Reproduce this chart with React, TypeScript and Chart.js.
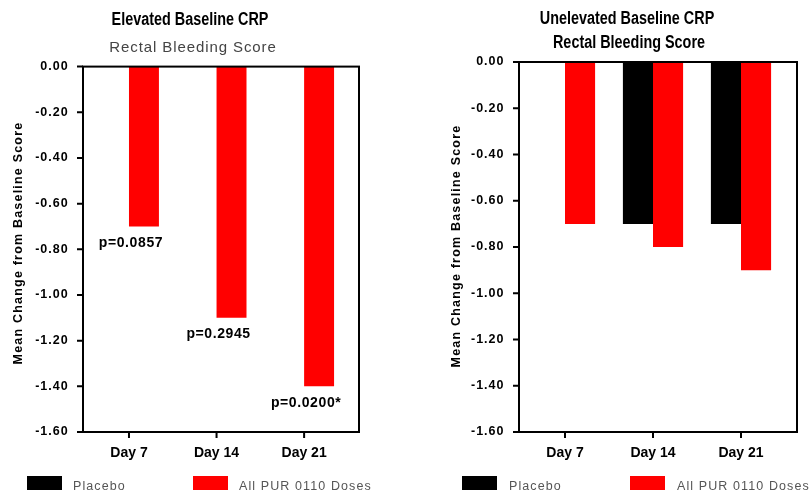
import React, { useEffect, useRef } from "react";
import { Chart, registerables } from "chart.js";

Chart.register(...registerables);

// ---------- data ----------
const categories = ["Day 7", "Day 14", "Day 21"];
const seriesNames = ["Placebo", "All PUR 0110 Doses"];
const seriesColors = ["#000000", "#FF0000"];
const yTickValues = [0, -0.2, -0.4, -0.6, -0.8, -1.0, -1.2, -1.4, -1.6];
const yTickLabels = ["0.00", "-0.20", "-0.40", "-0.60", "-0.80", "-1.00", "-1.20", "-1.40", "-1.60"];
const yAxisTitle = "Mean Change from Baseline Score";

const elevatedTitle = "Elevated Baseline CRP";
const elevatedSubtitle = "Rectal Bleeding Score";
const elevatedPlacebo = [0, 0, 0];
const elevatedPur = [-0.7, -1.1, -1.4];
const elevatedPValues = ["p=0.0857", "p=0.2945", "p=0.0200*"];

const unelevatedTitle = "Unelevated Baseline CRP";
const unelevatedSubtitle = "Rectal Bleeding Score";
const unelevatedPlacebo = [0, -0.7, -0.7];
const unelevatedPur = [-0.7, -0.8, -0.9];

// ---------- styling ----------
const SANS = '"Liberation Sans", Arial, sans-serif';
const H = 493;

type Panel = {
  canvasLeft: number;
  canvasWidth: number;
  areaLeft: number;
  areaRight: number;
  areaTop: number;
  areaBottom: number;
  frameLeft: number;
  frameRight: number;
  title: string;
  subtitle: string;
  subtitleBold: boolean;
  titlePos: [number, number];
  subPos: [number, number];
  yTitlePos: [number, number];
  placebo: number[];
  pur: number[];
  pLabels: string[] | null;
  legendX: [number, number, number, number];
};

const panels: Panel[] = [
  {
    canvasLeft: 0,
    canvasWidth: 405,
    areaLeft: 85.2,
    areaRight: 347.9,
    areaTop: 66.6,
    areaBottom: 432,
    frameLeft: 83,
    frameRight: 359,
    title: elevatedTitle,
    subtitle: elevatedSubtitle,
    subtitleBold: false,
    titlePos: [190, 20],
    subPos: [193, 48],
    yTitlePos: [19, 243],
    placebo: elevatedPlacebo,
    pur: elevatedPur,
    pLabels: elevatedPValues,
    legendX: [27, 73, 193, 239],
  },
  {
    canvasLeft: 405,
    canvasWidth: 404,
    areaLeft: 116,
    areaRight: 380,
    areaTop: 62,
    areaBottom: 432,
    frameLeft: 114,
    frameRight: 392,
    title: unelevatedTitle,
    subtitle: unelevatedSubtitle,
    subtitleBold: true,
    titlePos: [222, 19],
    subPos: [224, 43],
    yTitlePos: [52, 246],
    placebo: unelevatedPlacebo,
    pur: unelevatedPur,
    pLabels: null,
    legendX: [57, 104, 225, 272],
  },
];

function narrowText(
  ctx: any,
  text: string,
  x: number,
  y: number,
  font: string,
  sx: number,
  ls: string
) {
  ctx.save();
  ctx.translate(x, y);
  ctx.scale(sx, 1);
  ctx.font = font;
  ctx.letterSpacing = ls;
  ctx.fillText(text, 0, 0);
  ctx.restore();
}

function PanelChart({ p }: { p: Panel }) {
  const ref = useRef<HTMLCanvasElement | null>(null);
  useEffect(() => {
    if (!ref.current) return;
    const decor = {
      id: "decor",
      beforeDraw(chart: any) {
        const wrap = (s: any, ls: string) => {
          if (!s || s.__wrapped) return;
          const orig = s.drawLabels.bind(s);
          s.drawLabels = (area: any) => {
            const c = chart.ctx;
            c.save();
            c.letterSpacing = ls;
            orig(area);
            c.restore();
          };
          s.__wrapped = true;
        };
        wrap(chart.scales.x, "0px");
        wrap(chart.scales.y, "1px");
      },
      afterDraw(chart: any) {
        const ctx = chart.ctx as any;
        const xs = chart.scales.x;
        const ys = chart.scales.y;
        const top = ys.getPixelForValue(0);
        const bottom = ys.getPixelForValue(-1.6);
        ctx.save();
        // frame
        ctx.strokeStyle = "#000";
        ctx.lineWidth = 2;
        ctx.strokeRect(p.frameLeft, top, p.frameRight - p.frameLeft, bottom - top);
        // tick marks
        ctx.beginPath();
        yTickValues.forEach((v) => {
          const y = ys.getPixelForValue(v);
          ctx.moveTo(p.frameLeft - 6, y);
          ctx.lineTo(p.frameLeft, y);
        });
        categories.forEach((_, i) => {
          const x = xs.getPixelForValue(i);
          ctx.moveTo(x, bottom);
          ctx.lineTo(x, bottom + 6);
        });
        ctx.stroke();

        // p-value annotations
        if (p.pLabels) {
          ctx.fillStyle = "#000";
          ctx.font = `bold 14px ${SANS}`;
          ctx.letterSpacing = "0.6px";
          ctx.textAlign = "center";
          ctx.textBaseline = "middle";
          p.pLabels.forEach((t, i) => {
            ctx.fillText(t, xs.getPixelForValue(i) + 2, ys.getPixelForValue(p.pur[i]) + 16.5);
          });
        }

        // titles
        ctx.textAlign = "center";
        ctx.textBaseline = "middle";
        ctx.fillStyle = "#000";
        narrowText(ctx, p.title, p.titlePos[0], p.titlePos[1], `bold 18px ${SANS}`, 0.8, "0px");
        if (p.subtitleBold) {
          ctx.fillStyle = "#000";
          narrowText(ctx, p.subtitle, p.subPos[0], p.subPos[1], `bold 18px ${SANS}`, 0.8, "0px");
        } else {
          ctx.fillStyle = "#444";
          narrowText(ctx, p.subtitle, p.subPos[0], p.subPos[1], `15px ${SANS}`, 1, "0.9px");
        }

        // y axis title
        ctx.save();
        ctx.translate(p.yTitlePos[0], p.yTitlePos[1]);
        ctx.rotate(-Math.PI / 2);
        ctx.fillStyle = "#000";
        ctx.font = `bold 12.5px ${SANS}`;
        ctx.letterSpacing = "1.2px";
        ctx.fillText(yAxisTitle, 0, 0);
        ctx.restore();

        // legend
        ctx.textAlign = "left";
        ctx.textBaseline = "alphabetic";
        ctx.font = `12.5px ${SANS}`;
        ctx.letterSpacing = "1.1px";
        const lx = p.legendX;
        chart.data.datasets.forEach((ds: any, i: number) => {
          const bx = lx[i * 2];
          const tx = lx[i * 2 + 1];
          ctx.fillStyle = ds.backgroundColor;
          ctx.fillRect(bx, 476, 35, 14);
          ctx.fillStyle = "#555";
          ctx.fillText(ds.label, tx, 490);
        });
        ctx.restore();
      },
    };

    const chart = new Chart(ref.current, {
      type: "bar",
      data: {
        labels: categories,
        datasets: [
          {
            label: seriesNames[0],
            data: p.placebo,
            backgroundColor: seriesColors[0],
            borderWidth: 0,
            categoryPercentage: 0.684,
            barPercentage: 1,
          },
          {
            label: seriesNames[1],
            data: p.pur,
            backgroundColor: seriesColors[1],
            borderWidth: 0,
            categoryPercentage: 0.684,
            barPercentage: 1,
          },
        ],
      },
      options: {
        responsive: false,
        animation: false,
        events: [],
        layout: {
          padding: { top: p.areaTop, right: p.canvasWidth - p.areaRight, bottom: 0, left: 0 },
        },
        plugins: {
          legend: { display: false },
          tooltip: { enabled: false },
          title: { display: false },
        },
        scales: {
          x: {
            type: "category",
            offset: true,
            grid: { display: false, drawTicks: false },
            border: { display: false },
            ticks: {
              color: "#000",
              font: { family: SANS, size: 14, weight: "bold" },
              padding: 13,
              maxRotation: 0,
              autoSkip: false,
            },
            afterFit: (s: any) => {
              s.height = H - p.areaBottom;
            },
          },
          y: {
            type: "linear",
            min: -1.6,
            max: 0,
            grid: { display: false, drawTicks: false },
            border: { display: false },
            afterBuildTicks: (s: any) => {
              s.ticks = yTickValues.map((v) => ({ value: v }));
            },
            ticks: {
              color: "#000",
              font: { family: SANS, size: 12.5, weight: "bold" },
              padding: 16.5,
              autoSkip: false,
              callback: (_v: any, i: number) => yTickLabels[i],
            },
            afterFit: (s: any) => {
              s.width = p.areaLeft;
            },
          },
        },
      },
      plugins: [decor],
    });
    return () => chart.destroy();
  }, [p]);

  return (
    <canvas
      ref={ref}
      width={p.canvasWidth}
      height={H}
      style={{
        position: "absolute",
        left: p.canvasLeft,
        top: 0,
        width: p.canvasWidth,
        height: H,
        display: "block",
      }}
    />
  );
}

export default function App() {
  return (
    <div
      style={{
        position: "absolute",
        left: 0,
        top: 0,
        width: 809,
        height: H,
        background: "#fff",
        overflow: "hidden",
      }}
    >
      {panels.map((p, i) => (
        <PanelChart key={i} p={p} />
      ))}
    </div>
  );
}
